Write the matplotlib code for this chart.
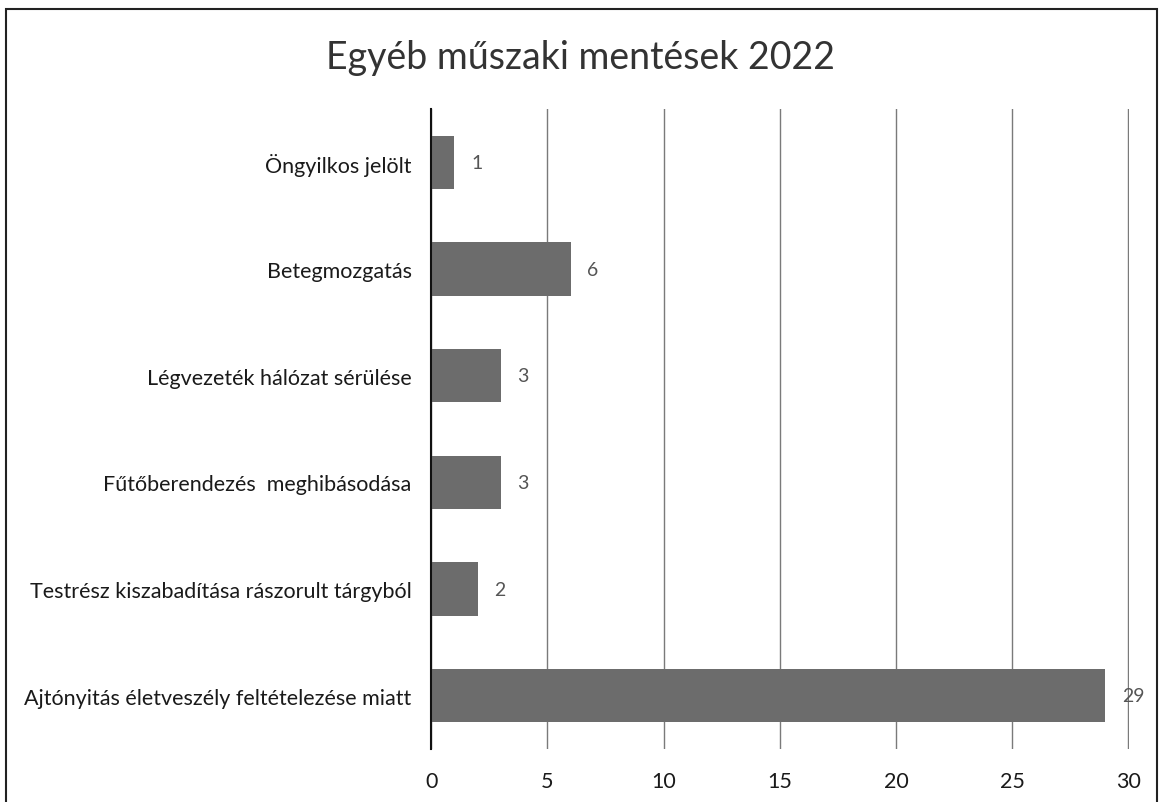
import matplotlib
matplotlib.use("Agg")
from matplotlib import pyplot as plt
from matplotlib.patches import Rectangle

categories = [
    "Öngyilkos jelölt",
    "Betegmozgatás",
    "Légvezeték hálózat sérülése",
    "Fűtőberendezés  meghibásodása",
    "Testrész kiszabadítása rászorult tárgyból",
    "Ajtónyitás életveszély feltételezése miatt",
]
values = [1, 6, 3, 3, 2, 29]
xticks = [0, 5, 10, 15, 20, 25, 30]

plt.rcParams['font.family'] = ['Lato', 'DejaVu Sans']

fig = plt.figure(figsize=(11.62, 8.03), dpi=100)
ax = fig.add_axes([0.371, 0.066, 0.601, 0.797])

pos = list(range(len(categories)))
ax.barh(pos, values, height=0.5, color="#6c6c6c", zorder=3)
for p, v in zip(pos, values):
    ax.annotate(str(v), (v, p), xytext=(12, 0), textcoords="offset points",
                va="center", ha="left", fontsize=14, color="#555555", zorder=4)

ax.set_ylim(len(categories) - 0.5, -0.5)
ax.set_xlim(0, 30.05)
ax.set_yticks(pos)
ax.set_yticklabels(categories, fontsize=15.5, color="#1a1a1a")
ax.set_xticks(xticks)
ax.set_xticklabels([str(t) for t in xticks], fontsize=15.5, color="#1a1a1a")
ax.tick_params(axis="y", length=0, pad=14)
ax.tick_params(axis="x", length=0, pad=16)

ax.grid(axis="x", color="#7a7a7a", linewidth=1.0, zorder=0)
for s in ["top", "right", "bottom"]:
    ax.spines[s].set_visible(False)
ax.spines["left"].set_color("#111111")
ax.spines["left"].set_linewidth(1.5)
ax.spines["left"].set_zorder(5)

fig.text(0.5, 0.928, "Egyéb műszaki mentések 2022", ha="center", va="center",
         fontsize=27, color="#333333")

fig.patches.append(Rectangle((0.005, -0.02), 0.991, 1.008, transform=fig.transFigure,
                             fill=False, edgecolor="#222222", linewidth=1.5))

fig.savefig("out.png", dpi=100)
